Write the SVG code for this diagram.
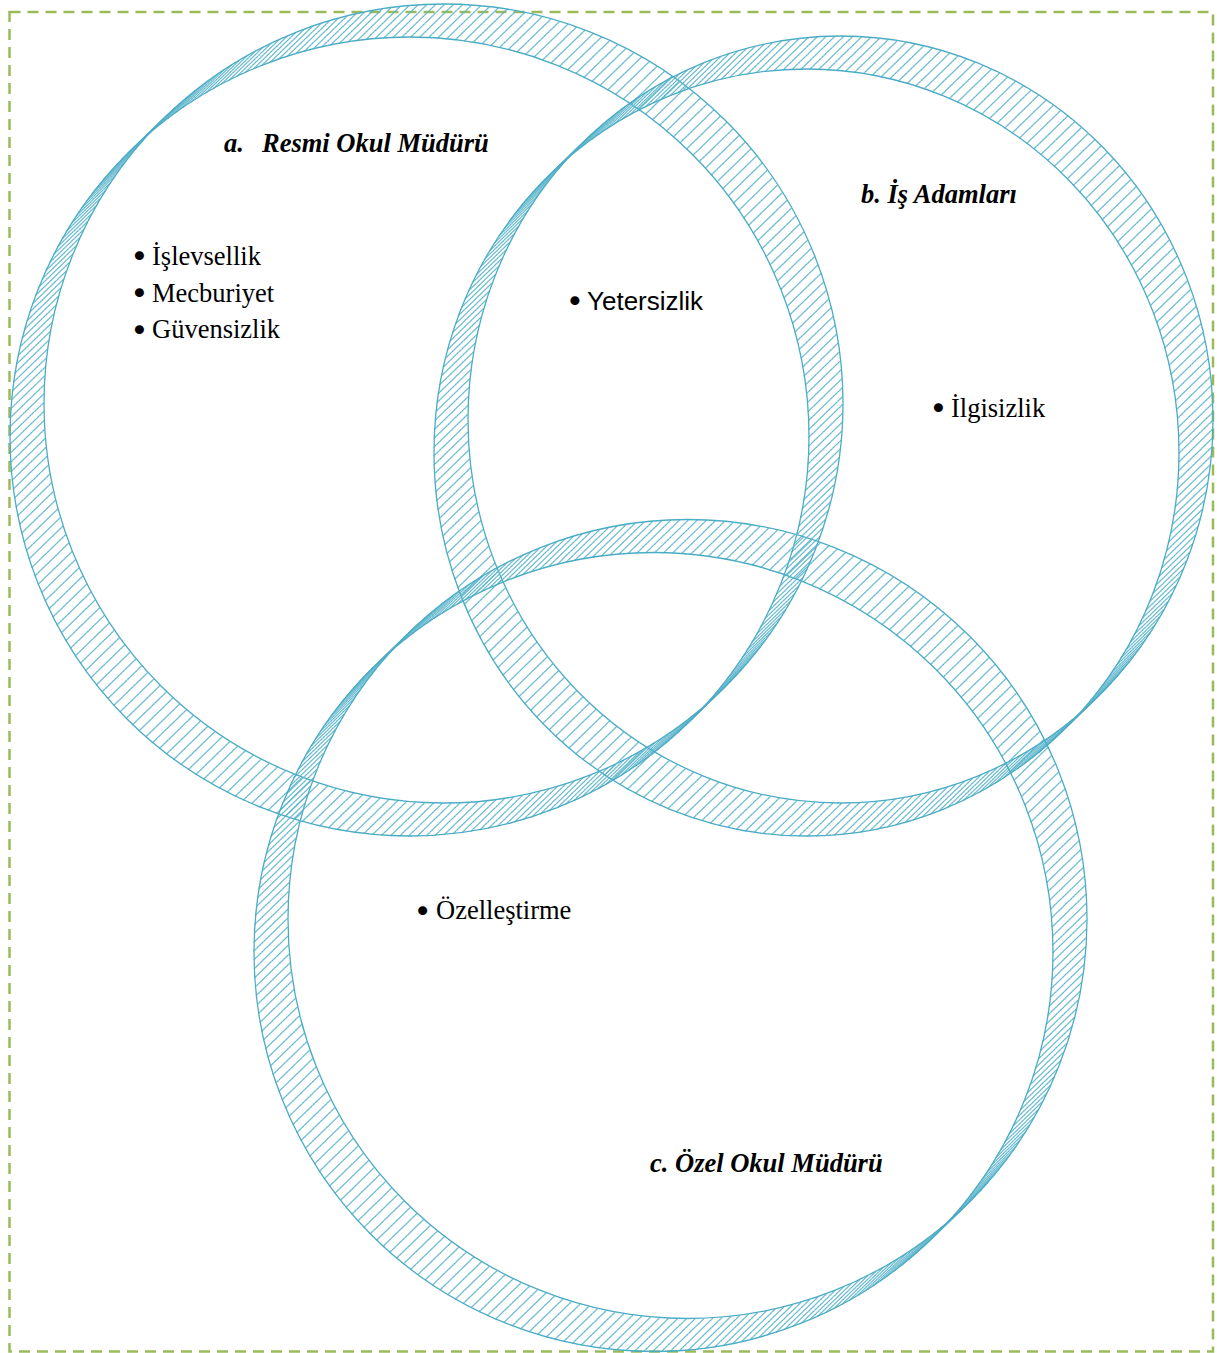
<svg xmlns="http://www.w3.org/2000/svg" xmlns:xlink="http://www.w3.org/1999/xlink" width="1217" height="1353" viewBox="0 0 1217 1353">
<style>
.outline{fill:none;stroke:#4bacc6;stroke-width:1.3}
.dots{fill:none;stroke:#5db5cb;stroke-width:1.1}
.dc{stroke-dasharray:1.2 7.765}
.de{stroke-dasharray:1.2 7.763}
.frame{fill:none;stroke:#9bbb59;stroke-width:2.5;stroke-dasharray:11 7}
.title{font-family:"Liberation Serif","Times New Roman",serif;font-size:26.5px;font-weight:bold;font-style:italic;fill:#000}
.item{font-family:"Liberation Serif","Times New Roman",serif;font-size:26.5px;fill:#000}
.itemsans{font-family:"Liberation Sans",Arial,sans-serif;font-size:26px;fill:#000}
.bul{font-family:"DejaVu Sans",sans-serif;font-size:31px;text-anchor:middle;fill:#000}
</style>
<defs>
<circle id="dotA" class="dots dc" cx="409.5" cy="436.5" r="399.5"/>
<ellipse id="dotB" class="dots de" cx="806.5" cy="452.5" rx="372.5" ry="383.5"/>
<circle id="dotC" class="dots dc" cx="653.5" cy="952" r="399.5"/>
<g id="hA6">
<use href="#dotA"/><use href="#dotA" transform="translate(0.708,-0.688)"/><use href="#dotA" transform="translate(1.417,-1.375)"/><use href="#dotA" transform="translate(2.125,-2.063)"/><use href="#dotA" transform="translate(2.833,-2.75)"/><use href="#dotA" transform="translate(3.542,-3.438)"/>
</g>
<g id="hB6">
<use href="#dotB"/><use href="#dotB" transform="translate(0.708,-0.688)"/><use href="#dotB" transform="translate(1.417,-1.375)"/><use href="#dotB" transform="translate(2.125,-2.063)"/><use href="#dotB" transform="translate(2.833,-2.75)"/><use href="#dotB" transform="translate(3.542,-3.438)"/>
</g>
<g id="hC6">
<use href="#dotC"/><use href="#dotC" transform="translate(0.708,-0.688)"/><use href="#dotC" transform="translate(1.417,-1.375)"/><use href="#dotC" transform="translate(2.125,-2.063)"/><use href="#dotC" transform="translate(2.833,-2.75)"/><use href="#dotC" transform="translate(3.542,-3.438)"/>
</g>
</defs>
<rect width="1217" height="1353" fill="#ffffff"/>
<rect class="frame" x="9.5" y="12" width="1203.5" height="1339.5"/>

<g id="ring-a">
<use href="#hA6"/><use href="#hA6" transform="translate(4.25,-4.125)"/><use href="#hA6" transform="translate(8.5,-8.25)"/><use href="#hA6" transform="translate(12.75,-12.375)"/><use href="#hA6" transform="translate(17,-16.5)"/><use href="#hA6" transform="translate(21.25,-20.625)"/><use href="#hA6" transform="translate(25.5,-24.75)"/><use href="#hA6" transform="translate(29.75,-28.875)"/>
<circle class="outline" cx="409.5" cy="436.5" r="399.5"/>
<circle class="outline" cx="443.5" cy="403.5" r="399.5"/>
</g>
<g id="ring-b">
<use href="#hB6"/><use href="#hB6" transform="translate(4.25,-4.125)"/><use href="#hB6" transform="translate(8.5,-8.25)"/><use href="#hB6" transform="translate(12.75,-12.375)"/><use href="#hB6" transform="translate(17,-16.5)"/><use href="#hB6" transform="translate(21.25,-20.625)"/><use href="#hB6" transform="translate(25.5,-24.75)"/><use href="#hB6" transform="translate(29.75,-28.875)"/>
<ellipse class="outline" cx="806.5" cy="452.5" rx="372.5" ry="383.5"/>
<ellipse class="outline" cx="840.5" cy="419.5" rx="372.5" ry="383.5"/>
</g>
<g id="ring-c">
<use href="#hC6"/><use href="#hC6" transform="translate(4.25,-4.125)"/><use href="#hC6" transform="translate(8.5,-8.25)"/><use href="#hC6" transform="translate(12.75,-12.375)"/><use href="#hC6" transform="translate(17,-16.5)"/><use href="#hC6" transform="translate(21.25,-20.625)"/><use href="#hC6" transform="translate(25.5,-24.75)"/><use href="#hC6" transform="translate(29.75,-28.875)"/>
<circle class="outline" cx="653.5" cy="952" r="399.5"/>
<circle class="outline" cx="687.5" cy="919" r="399.5"/>
</g>

<g id="connectors"></g>

<g id="label-a">
<text class="title" y="152"><tspan x="224">a.</tspan><tspan x="262">Resmi Okul Müdürü</tspan></text>
<text class="bul" x="139.5" y="267.2">•</text>
<text class="item" x="152" y="265">İşlevsellik</text>
<text class="bul" x="139.5" y="304.2">•</text>
<text class="item" x="152" y="302">Mecburiyet</text>
<text class="bul" x="139.5" y="341.2">•</text>
<text class="item" x="152" y="338">Güvensizlik</text>
</g>
<g id="label-ab">
<text class="bul" x="575" y="312.2">•</text>
<text class="itemsans" x="587" y="309.5">Yetersizlik</text>
</g>
<g id="label-b">
<text class="title" x="861" y="203">b. İş Adamları</text>
<text class="bul" x="938.3" y="418.8">•</text>
<text class="item" x="951" y="417">İlgisizlik</text>
</g>
<g id="label-ac">
<text class="bul" x="422.7" y="922.2">•</text>
<text class="item" x="436" y="919">Özelleştirme</text>
</g>
<g id="label-c">
<text class="title" x="650" y="1172">c. Özel Okul Müdürü</text>
</g>
</svg>
